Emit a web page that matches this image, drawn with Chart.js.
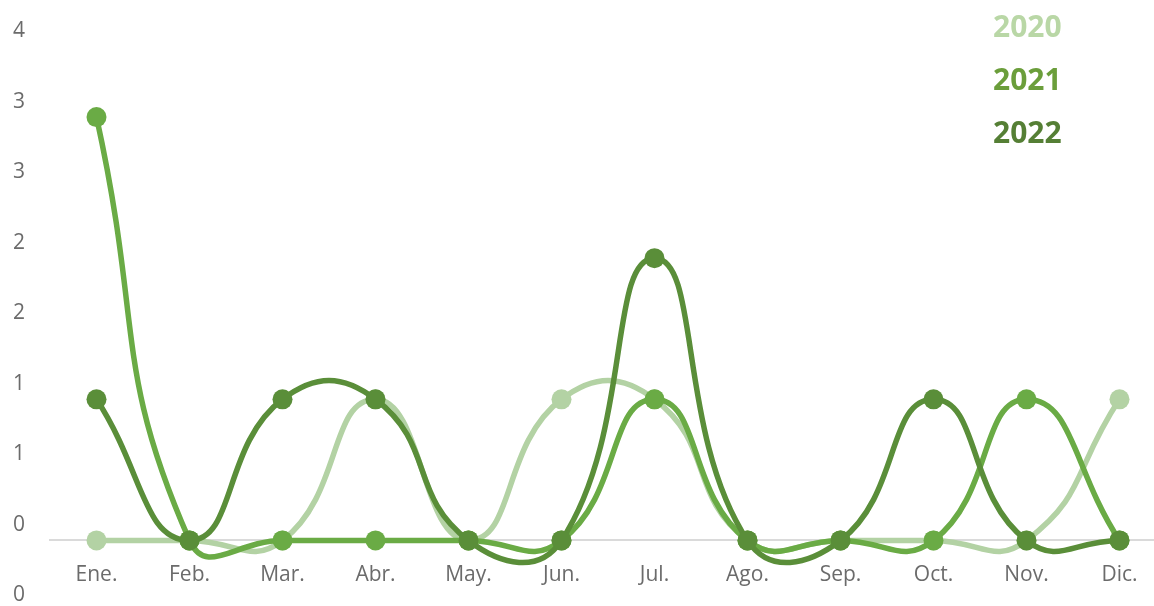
<!DOCTYPE html>
<html>
<head>
<meta charset="utf-8">
<script src="https://cdn.jsdelivr.net/npm/chart.js@4/dist/chart.umd.min.js"></script>
<style>
  html, body { margin: 0; background: #fff; overflow: hidden; }
  #wrap { position: relative; width: 1154px; height: 606px; overflow: hidden; }
  #box { position: absolute; left: 0; top: 0; width: 1166px; height: 611px; }
  #legend { position: absolute; left: 993px; top: 6px; font-family: "Open Sans", sans-serif; font-weight: 700; font-size: 30px; }
  #legend div { height: 53px; line-height: 40px; }
</style>
</head>
<body>
<div id="wrap">
  <div id="box"><canvas id="chart"></canvas></div>
  <div id="legend"></div>
</div>
<script>
// Months
const months = ['Ene.', 'Feb.', 'Mar.', 'Abr.', 'May.', 'Jun.', 'Jul.', 'Ago.', 'Sep.', 'Oct.', 'Nov.', 'Dic.'];

// Values per year
const years = ['2020', '2021', '2022'];
const values2020 = [0, 0, 0, 1, 0, 1, 1, 0, 0, 0, 0, 1];
const values2021 = [3, 0, 0, 0, 0, 0, 1, 0, 0, 0, 1, 0];
const values2022 = [1, 0, 1, 1, 0, 0, 2, 0, 0, 1, 0, 0];

const lineColors = ['#b3d2a4', '#6aab45', '#5a8e39'];
const legendColors = ['#b9d7a6', '#6b9e3b', '#557f35'];

const series = [values2020, values2021, values2022];

const datasets = series.map((vals, i) => ({
    label: years[i],
    data: vals,
    borderColor: lineColors[i],
    backgroundColor: lineColors[i],
    pointBackgroundColor: lineColors[i],
    pointBorderWidth: 0,
    pointRadius: 10,
    pointHoverRadius: 10,
    borderWidth: 5.5,
    tension: 0.5,
    fill: false,
    order: 3 - i
}));

function noPadding(scale) {
    scale.paddingTop = 0;
    scale.paddingBottom = 0;
    scale.paddingLeft = 0;
    scale.paddingRight = 0;
}

new Chart(document.getElementById('chart'), {
    type: 'line',
    data: { labels: months, datasets: datasets },
    options: {
        responsive: true,
        maintainAspectRatio: false,
        animation: false,
        layout: {
            autoPadding: false,
            padding: { top: 46.5, bottom: 0, left: 0, right: 0 }
        },
        plugins: {
            legend: { display: false },
            tooltip: { enabled: false }
        },
        scales: {
            x: {
                position: { y: 0 },
                offset: true,
                grid: { display: false, drawTicks: false },
                border: { display: true, color: '#dadada', width: 2 },
                ticks: {
                    color: '#6b6b6b',
                    padding: 22,
                    font: { family: 'Open Sans', size: 21 }
                },
                afterFit: function (scale) {
                    scale.height = 0;
                    noPadding(scale);
                }
            },
            y: {
                min: -0.5,
                max: 3.5,
                grid: { display: false, drawTicks: false },
                border: { display: false },
                ticks: {
                    stepSize: 0.5,
                    padding: 25,
                    labelOffset: -15.5,
                    color: '#6b6b6b',
                    font: { family: 'Open Sans', size: 21 },
                    callback: function (v) {
                        return String(Math.round(v));
                    }
                },
                afterFit: function (scale) {
                    scale.width = 50;
                    noPadding(scale);
                }
            }
        }
    }
});

// Legend
const legend = document.getElementById('legend');
years.forEach((y, i) => {
    const item = document.createElement('div');
    item.textContent = y;
    item.style.color = legendColors[i];
    legend.appendChild(item);
});
</script>
</body>
</html>
